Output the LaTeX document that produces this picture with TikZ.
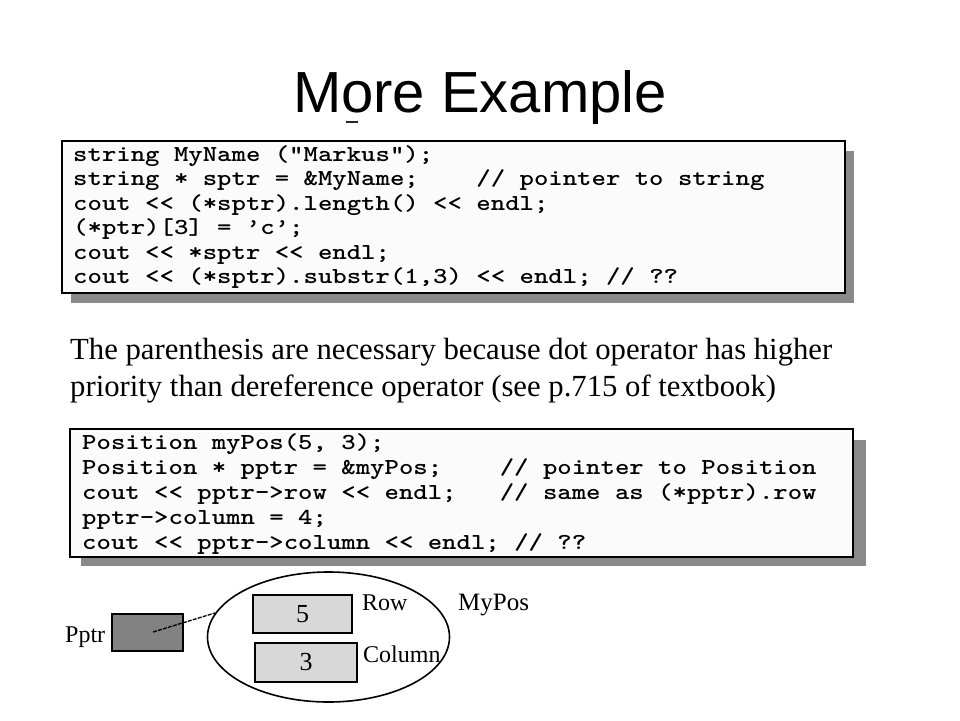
\documentclass[tikz,border=0pt]{standalone}
\usepackage{fontspec}
\setmainfont{Liberation Serif}
\setsansfont{Liberation Sans}
\newfontfamily\codefont{lmmonolt10-bold.otf}[FakeStretch=1.2]
\usetikzlibrary{shapes.geometric}
\definecolor{shadowgray}{HTML}{8A8A8A}
\definecolor{boxfill}{HTML}{FBFBFB}
\definecolor{ptrfill}{HTML}{828282}
\definecolor{cellfill}{HTML}{D8D8D8}
\begin{document}
\begin{tikzpicture}[x=1pt,y=-1pt,
  code/.style={anchor=base west, inner sep=0, text height=15pt, text depth=5pt, font={\codefont\fontsize{22.86}{22.86}\selectfont\frenchspacing}},
  prose/.style={anchor=base west, inner sep=0, font={\rmfamily\fontsize{30.7}{30.7}\selectfont}},
  lbl/.style={anchor=base west, inner sep=0, font={\rmfamily\fontsize{24}{24}\selectfont}},
  codebox/.style={draw=black, line width=2pt, fill=boxfill},
  shadowbox/.style={fill=shadowgray, draw=none},
  cell/.style={draw=black, line width=1.6pt, fill=cellfill, inner sep=0, font={\rmfamily\fontsize{26}{26}\selectfont}},
]
\useasboundingbox (0,0) rectangle (960,720);
\fill[white] (0,0) rectangle (960,720);

% title
\node[anchor=base, inner sep=0, font={\sffamily\fontsize{58}{58}\selectfont}] (title) at (480,112) {More Example};
\draw[line width=2pt, black!85] (346,122) -- (358,122);

% code box 1
\fill[shadowbox] (71,151) rectangle (854,303);
\draw[codebox] (62,141) rectangle (845,293);
\node[code] (a1) at (73,161)   {string MyName ("Markus");};
\node[code] (a2) at (73,185.5) {string * sptr = \&MyName;};
\node[code] (a2c) at (476.2,185.5) {// pointer to string};
\node[code] (a3) at (73,210)   {cout << (*sptr).length() << endl;};
\node[code] (a4) at (73,234.5) {(*ptr)[3] = ’c’;};
\node[code] (a5) at (73,259)   {cout << *sptr << endl;};
\node[code] (a6) at (73,283.5) {cout << (*sptr).substr(1,3) << endl; // ??};

% prose
\node[prose] (p1) at (70,359) {The parenthesis are necessary because dot operator has higher};
\node[prose] (p2) at (70,396) {priority than dereference operator (see p.715 of textbook)};

% code box 2
\fill[shadowbox] (81,440) rectangle (866,566);
\draw[codebox] (70,429) rectangle (853,557);
\node[code] (b1) at (82,449) {Position myPos(5, 3);};
\node[code] (b2) at (82,474) {Position * pptr = \&myPos;};
\node[code] (b2c) at (499.6,474) {// pointer to Position};
\node[code] (b3) at (82,499) {cout << pptr->row << endl;};
\node[code] (b3c) at (499.6,499) {// same as (*pptr).row};
\node[code] (b4) at (82,524) {pptr->column = 4;};
\node[code] (b5) at (82,549) {cout << pptr->column << endl; // ??};

% diagram
\node[lbl] (pptrlbl) at (65,642) {Pptr};
\node[draw=black, line width=1.6pt, fill=ptrfill, minimum width=71pt, minimum height=37pt, inner sep=0] (pptr) at (147.5,632.5) {};
\node[ellipse, draw=black, line width=1.6pt, minimum width=242pt, minimum height=130pt, inner sep=0] (mypos) at (328.5,637) {};
\node[cell, minimum width=99pt, minimum height=38pt] (row) at (302.5,614) {5};
\node[cell, minimum width=102pt, minimum height=39pt] (col) at (306,662.5) {3};
\node[lbl] (rowlbl) at (362,610) {Row};
\node[lbl] (collbl) at (363,662) {Column};
\node[lbl, font={\rmfamily\fontsize{25}{25}\selectfont}] (myposlbl) at (458,610) {MyPos};
\coordinate (ptrstart) at (153,632);
\draw[line width=1.3pt, dash pattern=on 4pt off 1.2pt] (ptrstart) -- (mypos.168);
\end{tikzpicture}
\end{document}
